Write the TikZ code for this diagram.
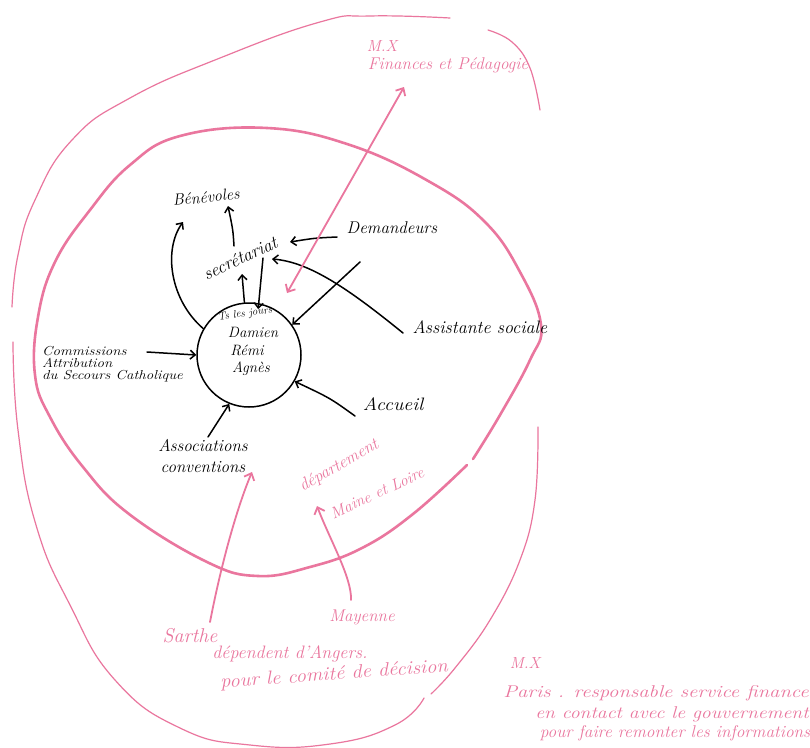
\documentclass[tikz,border=0pt]{standalone}
\usepackage{graphicx}
\usetikzlibrary{arrows.meta}
\definecolor{hpink}{RGB}{234,118,158}
\newcommand\fsz[1]{\fontsize{#1}{#1}\selectfont\itshape}
\newcommand\widen[2]{\scalebox{#1}[1]{#2}}
\tikzset{
  ink/.style={draw=black, line width=1.5pt, line cap=round, line join=round},
  inkarr/.style={ink, -{Straight Barb[length=5pt,width=9pt]}},
  pinkthin/.style={draw=hpink, line width=1.2pt, line cap=round, line join=round},
  pinkthick/.style={draw=hpink, line width=2.6pt, line cap=round, line join=round},
  pinkarr/.style={draw=hpink, line width=1.8pt, line cap=round, -{Straight Barb[length=6pt,width=11pt]}},
  pinkdbl/.style={draw=hpink, line width=1.8pt, line cap=round, {Straight Barb[length=6pt,width=11pt]}-{Straight Barb[length=6pt,width=11pt]}},
  lbl/.style={inner sep=0pt, text=black},
  plbl/.style={inner sep=0pt, text=hpink},
}
\begin{document}
\begin{tikzpicture}[x=1pt,y=-1pt]
\useasboundingbox (0,0) rectangle (810,747);
\fill[white] (0,0) rectangle (810,747);

% outer thin loop
\draw[pinkthin] plot[smooth, tension=0.7] coordinates {(540,110) (530,68) (512,42) (488,30)};
\draw[pinkthin] plot[smooth, tension=0.8] coordinates {(450,18) (370,16) (320,22) (220,58) (130,98) (72,140) (35,200) (18,255) (12,307)};
\draw[pinkthin] plot[smooth, tension=0.8] coordinates {(13,342) (18,430) (36,525) (70,605) (115,680) (180,728) (250,745) (330,744) (395,725) (424,698)};
\draw[pinkthin] plot[smooth, tension=0.7] coordinates {(431,694) (455,668) (490,620) (520,560) (535,500) (538,427)};

% inner thick loop
\draw[pinkthick] plot[smooth, tension=0.7] coordinates {(467,465) (413,514) (362,548) (310,567) (258,576) (207,562) (129,514) (83,467) (50,417) (35,375) (38,317) (55,262) (90,210) (130,165) (180,136) (267,128) (350,145) (430,182) (485,222) (520,272) (541,325) (530,360) (500,415) (473,459)};

% central group
\node[circle, draw, line width=1.5pt, minimum size=104pt, inner sep=0pt] (team) at (249,355) {};
\node[lbl, font=\fsz{11}, rotate=8] (tsj) at (245,314) {Ts les jours};
\node[lbl, font=\fsz{15}] (damien) at (253,332) {Damien};
\node[lbl, font=\fsz{15}] (remi) at (247,350) {Rémi};
\node[lbl, font=\fsz{15}] (agnes) at (251,369) {Agnès};

% black labels
\node[lbl, font=\fsz{16}, rotate=6] (benev) at (206,197) {Bénévoles};
\node[lbl, font=\fsz{18}, rotate=25] (secr) at (240,258) {secrétariat};
\node[lbl, font=\fsz{17}] (dem) at (392,228) {Demandeurs};
\node[lbl, font=\fsz{18}] (assist) at (480,327) {Assistante sociale};
\node[lbl, font=\fsz{18}] (accueil) at (393,404) {\widen{1.1}{Accueil}};
\node[lbl, font=\fsz{13}, anchor=west, align=left] (comm) at (42,364)
  {\widen{1.15}{Commissions}\\[-1pt]\widen{1.15}{Attribution}\\[-1pt]\widen{1.15}{du Secours Catholique}};
\node[lbl, font=\fsz{17}, align=center] (assoc) at (203,456)
  {Associations\\[4pt]conventions};

% connector end points
\coordinate (benevA) at (228,206);
\coordinate (benevB) at (183,222);
\coordinate (secrS1) at (234,246);
\coordinate (secrUp) at (242,274);
\coordinate (secrD) at (263,258);
\coordinate (secrR) at (290,242);
\coordinate (secrRR) at (272,259);
\coordinate (demW) at (337,237);
\coordinate (assistW) at (403,333);
\coordinate (free) at (360,262);
\coordinate (commE) at (147,352);
\coordinate (accW) at (355,416);
\coordinate (assocN) at (208,437);

% black connectors
\draw[inkarr] (secrS1) .. controls (233,230) .. (benevA);
\draw[inkarr] (team.150) .. controls (170,300) and (163,250) .. (benevB);
\draw[inkarr] (team.95) -- (secrUp);
\draw[inkarr] (secrD) -- ([yshift=-6pt]team.80);
\draw[inkarr] (demW) .. controls (315,238) .. (secrR);
\draw[inkarr] (assistW) .. controls (350,290) and (310,262) .. (secrRR);
\draw[inkarr] (free) -- (team.35);
\draw[inkarr] (commE) -- (team.180);
\draw[inkarr] (accW) .. controls (330,398) .. (team.-30);
\draw[inkarr] (assocN) -- (team.-112);

% pink labels
\node[plbl, font=\fsz{16}] (mx1) at (382,46) {M.X};
\node[plbl, font=\fsz{17}] (fin) at (448,65) {Finances et Pédagogie};
\node[plbl, font=\fsz{17}, rotate=30] (dep1) at (339,466) {département};
\node[plbl, font=\fsz{16}, rotate=25] (dep2) at (377,493) {Maine et Loire};
\node[plbl, font=\fsz{20}] (sarthe) at (190,636) {Sarthe};
\node[plbl, font=\fsz{17}] (mayenne) at (362,617) {Mayenne};
\node[plbl, font=\fsz{18}] (angers) at (290,654) {dépendent d'Angers.};
\node[plbl, font=\fsz{19}, rotate=4] (comite) at (334,675) {\widen{1.08}{pour le comité de décision}};
\node[plbl, font=\fsz{16}] (mx2) at (525,663) {M.X};
\node[plbl, font=\fsz{17}] (paris) at (656,693) {\widen{1.22}{Paris . responsable service finance}};
\node[plbl, font=\fsz{17}] (contact) at (672,714) {\widen{1.16}{en contact avec le gouvernement}};
\node[plbl, font=\fsz{17}] (remonter) at (675,733) {\widen{1.02}{pour faire remonter les informations}};

% pink connectors
\coordinate (mxS) at (404,87);
\coordinate (innerP) at (287,293);
\coordinate (sartheN) at (210,622);
\coordinate (assocS) at (252,472);
\coordinate (mayN) at (351,600);
\coordinate (depS) at (317,506);
\draw[pinkdbl] (innerP) -- (mxS);
\draw[pinkarr] (sartheN) .. controls (222,560) and (238,505) .. (assocS);
\draw[pinkarr] (mayN) .. controls (352,578) and (330,540) .. (depS);
\end{tikzpicture}
\end{document}
